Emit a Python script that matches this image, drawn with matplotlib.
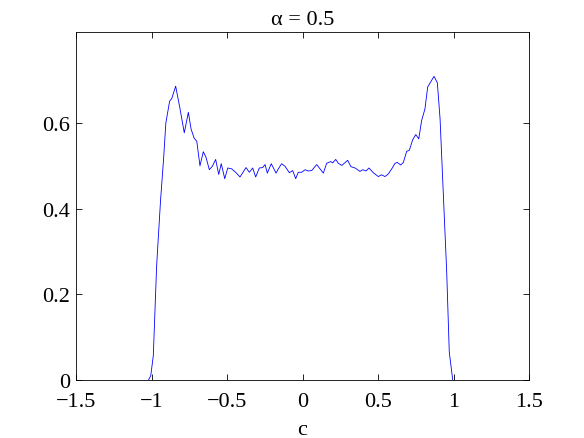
import numpy as np
import matplotlib
matplotlib.use("Agg")
import matplotlib.pyplot as plt

# values (c, density)
c = [-1.02, -1.005, -0.988, -0.966, -0.94, -0.92, -0.905, -0.88, -0.866, -0.84,
     -0.811, -0.783, -0.756, -0.738, -0.718, -0.70, -0.679, -0.657, -0.639, -0.617,
     -0.597, -0.575, -0.555, -0.538, -0.515, -0.495, -0.469, -0.44, -0.414, -0.374,
     -0.352, -0.33, -0.31, -0.286, -0.264, -0.248, -0.233, -0.207, -0.175, -0.16,
     -0.138, -0.116, -0.087, -0.065, -0.045, -0.028, -0.005, 0.017, 0.038, 0.061,
     0.094, 0.116, 0.138, 0.16, 0.187, 0.2, 0.22, 0.237, 0.26, 0.277,
     0.299, 0.321, 0.348, 0.381, 0.399, 0.421, 0.44, 0.469, 0.502, 0.524,
     0.546, 0.568, 0.591, 0.613, 0.628, 0.65, 0.668, 0.69, 0.707, 0.73,
     0.75, 0.77, 0.789, 0.811, 0.829, 0.849, 0.871, 0.893, 0.911, 0.932,
     0.955, 0.972, 0.995]
p = [0.0, 0.01, 0.057, 0.267, 0.42, 0.516, 0.60, 0.651, 0.657, 0.686,
     0.633, 0.577, 0.625, 0.586, 0.565, 0.557, 0.50, 0.533, 0.52, 0.491,
     0.499, 0.515, 0.48, 0.505, 0.47, 0.495, 0.493, 0.484, 0.474, 0.496,
     0.485, 0.495, 0.474, 0.495, 0.496, 0.503, 0.483, 0.505, 0.483, 0.493,
     0.505, 0.499, 0.484, 0.489, 0.470, 0.485, 0.485, 0.491, 0.488, 0.489,
     0.503, 0.493, 0.483, 0.506, 0.51, 0.507, 0.515, 0.506, 0.501, 0.506,
     0.513, 0.498, 0.495, 0.487, 0.491, 0.488, 0.495, 0.484, 0.475, 0.479,
     0.475, 0.481, 0.493, 0.506, 0.508, 0.502, 0.508, 0.534, 0.536, 0.561,
     0.573, 0.563, 0.606, 0.633, 0.684, 0.696, 0.709, 0.694, 0.61, 0.439,
     0.252, 0.065, 0.0]

xticks = [-1.5, -1, -0.5, 0, 0.5, 1, 1.5]
xlabels = ["\u22121.5", "\u22121", "\u22120.5", "0", "0.5", "1", "1.5"]
yticks = [0, 0.2, 0.4, 0.6]
ylabels = ["0", "0.2", "0.4", "0.6"]

plt.rcParams["font.family"] = ["Liberation Serif", "DejaVu Serif"]

fig = plt.figure(figsize=(5.84, 4.39), dpi=100)
ax = fig.add_axes([76 / 584, 58 / 439, 453 / 584, 348 / 439])
ax.plot(c, p, color="#0000ff", lw=0.6)

ax.set_xlim(-1.5, 1.5)
ax.set_ylim(0, 0.8125)
ax.set_xticks(xticks)
ax.set_xticklabels(xlabels)
ax.set_yticks(yticks)
ax.set_yticklabels(ylabels)
ax.tick_params(direction="in", top=True, right=True, labelsize=16,
               length=4, width=0.6)
ax.tick_params(axis="x", pad=9)
ax.tick_params(axis="y", pad=4)
for s in ax.spines.values():
    s.set_linewidth(0.6)

ax.set_xlabel("c", fontsize=16, labelpad=6)
ax.set_title("\u03b1 = 0.5", fontsize=16, pad=6)

fig.savefig("out.png", dpi=100)
